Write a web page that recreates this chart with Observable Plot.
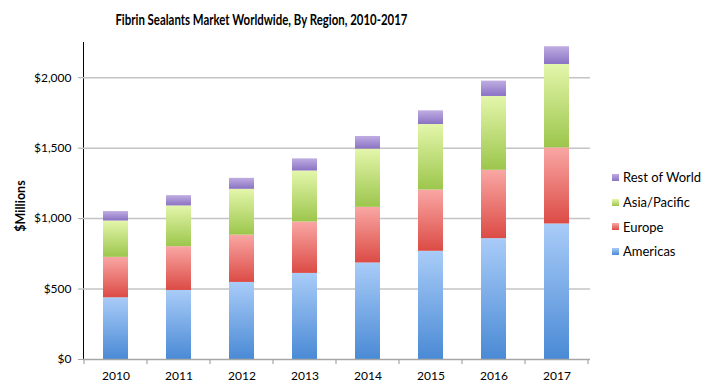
<!DOCTYPE html>
<html><head><meta charset="utf-8">
<script src="https://cdn.jsdelivr.net/npm/d3@7"></script>
<script src="https://cdn.jsdelivr.net/npm/@observablehq/plot@0.6"></script>
<style>
body{margin:0;background:#fff;font-family:Lato,"Open Sans",sans-serif;color:#000;}
#wrap{position:relative;width:709px;height:391px;overflow:hidden;}
#title{position:absolute;left:0;top:0;width:522px;height:34px;line-height:37px;text-align:center;}
#title span{display:inline-block;font-weight:bold;font-size:14.5px;transform-origin:50% 50%;white-space:nowrap;}
#chart{position:absolute;left:0;top:34px;}
#ylabel{position:absolute;left:20px;top:206px;transform:translate(-50%,-50%) rotate(-90deg);font-weight:bold;font-size:12.5px;white-space:nowrap;}
#legend{position:absolute;left:612px;top:165px;font-size:13px;}
#legend .item{height:24.7px;display:flex;align-items:center;}
#legend .sw{width:7px;height:7px;margin-right:4px;}
svg [aria-label^="y-axis"] line, svg [aria-label^="y-axis"] path{stroke:#a6a6a6;}
svg [aria-label^="y-axis"] path.domain{stroke-width:1.5;}
</style>
</head><body>
<div id="wrap">
  <div id="title"><span>Fibrin Sealants Market Worldwide, By Region, 2010-2017</span></div>
  <div id="chart"></div>
  <div id="ylabel">$Millions</div>
  <div id="legend"></div>
</div>
<script>
const years = ["2010","2011","2012","2013","2014","2015","2016","2017"];
const americas = [438,490,547,611,685,768,858,962];
const europe   = [287,311,336,365,395,435,485,540];
const asia     = [258,289,325,362,413,465,524,592];
const rest     = [67,73,78,86,90,97,109,126];
const regions = ["Americas","Europe","Asia/Pacific","Rest of World"];
const regionValues = [americas, europe, asia, rest];
const yTicks = [0,500,1000,1500,2000];
const gradTop = ["#a9ccf8","#f9a7a4","#e4f6ab","#c0ade2"];
const gradBottom = ["#4a8ad5","#dc4b45","#9cc64c","#8a72c3"];
const gradIds = ["gAm","gEu","gAs","gRw"];

const table = years.flatMap((year, i) => regions.map((region, r) => ({year, region, value: regionValues[r][i]})));

function defsMark() {
  const defs = d3.create("svg:defs");
  regions.forEach((r, i) => {
    const g = defs.append("linearGradient").attr("id", gradIds[i]).attr("x1",0).attr("y1",0).attr("x2",0).attr("y2",1);
    g.append("stop").attr("offset","0%").attr("stop-color",gradTop[i]);
    g.append("stop").attr("offset","100%").attr("stop-color",gradBottom[i]);
  });
  return defs.node();
}

function boundaryTicks(index, scales, values, dimensions) {
  const x = scales.x, y = scales.y;
  const step = x.step(), bw = x.bandwidth();
  const start = x(years[0]) - (step - bw) / 2;
  const y0 = y(0);
  const g = d3.create("svg:g").attr("stroke", "#a6a6a6").attr("stroke-width", 1.2);
  for (let i = 0; i <= years.length; i++) {
    const xp = start + i * step;
    g.append("line").attr("x1", xp).attr("x2", xp).attr("y1", y0).attr("y2", y0 + 5);
  }
  return g.node();
}

const chart = Plot.plot({
  width: 709,
  height: 357,
  marginTop: 8,
  marginBottom: 32,
  marginLeft: 83,
  marginRight: 119,
  style: {fontFamily: "Lato, 'Open Sans', sans-serif", fontSize: "12px", color: "#000", background: "#fff"},
  x: {domain: years, paddingInner: 0.6, paddingOuter: 0.3, tickSize: 0, tickPadding: 12, label: null},
  y: {domain: [0, 2250], ticks: yTicks, tickFormat: d => "$" + d3.format(",")(d), tickSize: 5, tickPadding: 7, line: true, label: null},
  color: {domain: regions, range: gradIds.map(id => `url(#${id})`)},
  marks: [
    defsMark,
    Plot.ruleY(yTicks.slice(1), {stroke: "#c4c4c4", strokeWidth: 1.5}),
    Plot.barY(table, {x: "year", y: "value", fill: "region"}),
    Plot.ruleY([0], {stroke: "#a6a6a6", strokeWidth: 1.5}),
    boundaryTicks
  ]
});
document.getElementById("chart").appendChild(chart);

const titleSpan = document.querySelector("#title span");
const tw = titleSpan.getBoundingClientRect().width;
if (tw > 0) titleSpan.style.transform = `scaleX(${292 / tw})`;

const legend = document.getElementById("legend");
for (let i = regions.length - 1; i >= 0; i--) {
  const item = document.createElement("div");
  item.className = "item";
  const sw = document.createElement("span");
  sw.className = "sw";
  sw.style.background = `linear-gradient(${gradTop[i]}, ${gradBottom[i]})`;
  const t = document.createElement("span");
  t.textContent = regions[i];
  item.appendChild(sw); item.appendChild(t);
  legend.appendChild(item);
}
</script>
</body></html>
